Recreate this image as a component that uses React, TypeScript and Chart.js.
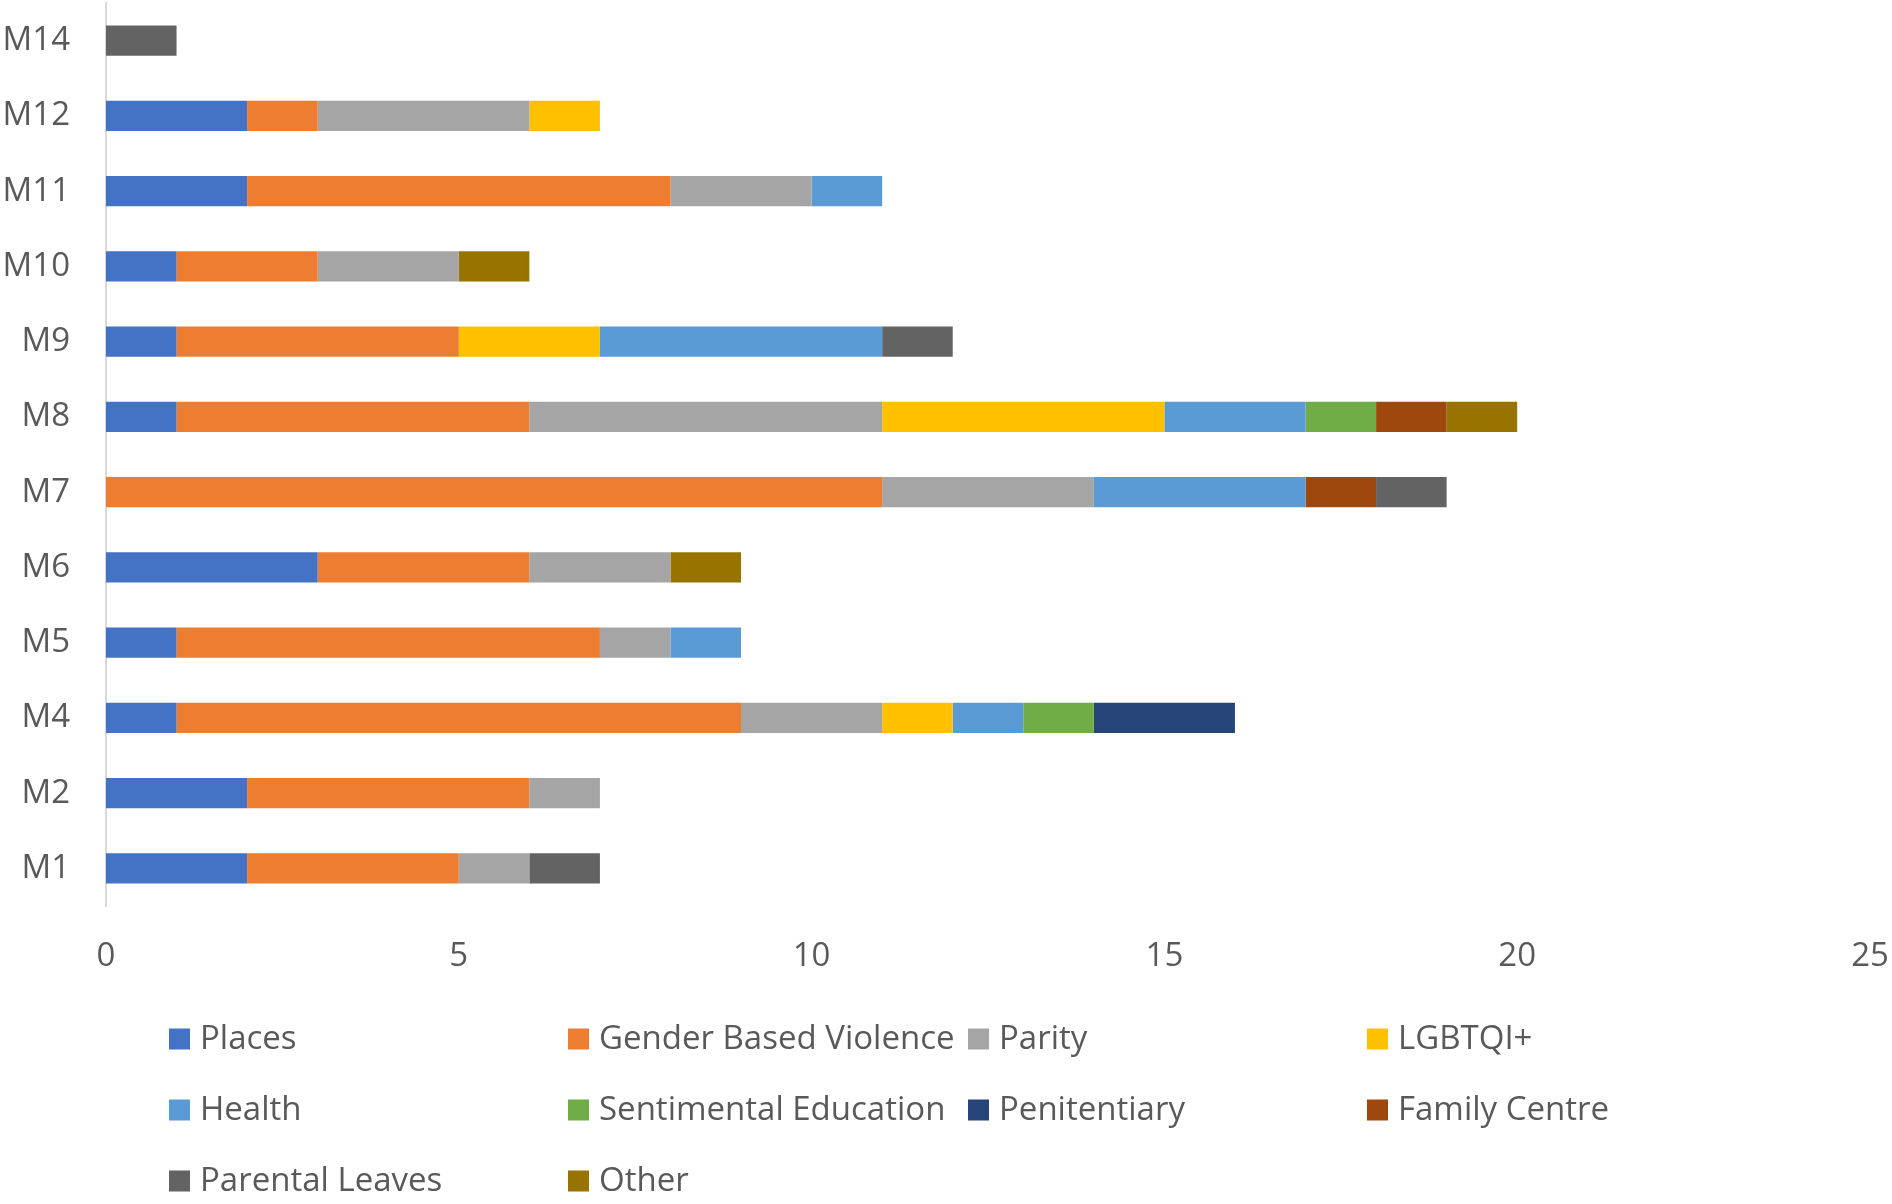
import React, { useEffect, useRef } from "react";
import { Chart, registerables } from "chart.js";

Chart.register(...registerables);

const categories = ["M14", "M12", "M11", "M10", "M9", "M8", "M7", "M6", "M5", "M4", "M2", "M1"];

const seriesNames = [
  "Places",
  "Gender Based Violence",
  "Parity",
  "LGBTQI+",
  "Health",
  "Sentimental Education",
  "Penitentiary",
  "Family Centre",
  "Parental Leaves",
  "Other",
];

const seriesColors = [
  "#4472C4",
  "#ED7D31",
  "#A5A5A5",
  "#FFC000",
  "#5B9BD5",
  "#70AD47",
  "#264478",
  "#9E480E",
  "#636363",
  "#997300",
];

const places = [0, 2, 2, 1, 1, 1, 0, 3, 1, 1, 2, 2];
const genderBasedViolence = [0, 1, 6, 2, 4, 5, 11, 3, 6, 8, 4, 3];
const parity = [0, 3, 2, 2, 0, 5, 3, 2, 1, 2, 1, 1];
const lgbtqi = [0, 1, 0, 0, 2, 4, 0, 0, 0, 1, 0, 0];
const health = [0, 0, 1, 0, 4, 2, 3, 0, 1, 1, 0, 0];
const sentimentalEducation = [0, 0, 0, 0, 0, 1, 0, 0, 0, 1, 0, 0];
const penitentiary = [0, 0, 0, 0, 0, 0, 0, 0, 0, 2, 0, 0];
const familyCentre = [0, 0, 0, 0, 0, 1, 1, 0, 0, 0, 0, 0];
const parentalLeaves = [1, 0, 0, 0, 1, 0, 1, 0, 0, 0, 0, 1];
const other = [0, 0, 0, 1, 0, 1, 0, 1, 0, 0, 0, 0];

const seriesValues = [
  places,
  genderBasedViolence,
  parity,
  lgbtqi,
  health,
  sentimentalEducation,
  penitentiary,
  familyCentre,
  parentalLeaves,
  other,
];

const xTickMin = 0;
const xTickMax = 25;
const xTickStep = 5;

const FONT = "'Open Sans', 'Noto Sans', sans-serif";
const TEXT_COLOR = "#595959";
const FONT_SIZE = 33;

const gridLegendPlugin = {
  id: "gridLegend",
  afterDraw(chart: any) {
    const ctx = chart.ctx;
    const colX = [169, 568, 968, 1367];
    const rowY = [1039, 1110, 1181];
    const box = 21;
    ctx.save();
    ctx.font = `${FONT_SIZE}px ${FONT}`;
    ctx.textBaseline = "middle";
    ctx.textAlign = "left";
    chart.data.datasets.forEach((ds: any, i: number) => {
      const c = i % 4;
      const r = Math.floor(i / 4);
      const x = colX[c];
      const y = rowY[r];
      ctx.fillStyle = ds.backgroundColor;
      ctx.fillRect(x, y - box / 2, box, box);
      ctx.fillStyle = TEXT_COLOR;
      ctx.fillText(ds.label, x + 31, y + 1);
    });
    ctx.restore();
  },
};

export default function App() {
  const ref = useRef<HTMLCanvasElement | null>(null);

  useEffect(() => {
    if (!ref.current) return;
    const chart = new Chart(ref.current, {
      type: "bar",
      data: {
        labels: categories,
        datasets: seriesNames.map((name, i) => ({
          label: name,
          data: seriesValues[i],
          backgroundColor: seriesColors[i],
          borderWidth: 0,
          categoryPercentage: 1,
          barPercentage: 0.4,
        })),
      },
      plugins: [gridLegendPlugin],
      options: {
        indexAxis: "y",
        responsive: false,
        animation: false,
        maintainAspectRatio: false,
        layout: { padding: { top: 3, right: 22, left: 0, bottom: 0 } },
        plugins: {
          legend: { display: false },
          tooltip: { enabled: false },
          title: { display: false },
        },
        scales: {
          x: {
            stacked: true,
            min: xTickMin,
            max: xTickMax,
            ticks: {
              stepSize: xTickStep,
              color: TEXT_COLOR,
              font: { family: FONT, size: FONT_SIZE },
              padding: 31,
            },
            grid: { display: false, drawTicks: false },
            border: { display: false },
            afterFit: (scale: any) => {
              scale.height = 298;
              scale.paddingLeft = 0;
              scale.paddingRight = 0;
            },
          },
          y: {
            stacked: true,
            ticks: {
              color: TEXT_COLOR,
              font: { family: FONT, size: FONT_SIZE },
              padding: 36,
            },
            grid: { display: true, color: "rgba(0,0,0,0)", drawTicks: false },
            border: { display: true, color: "#D9D9D9", width: 2 },
            afterFit: (scale: any) => {
              scale.width = 106;
              scale.paddingTop = 0;
              scale.paddingBottom = 0;
            },
          },
        },
      },
    });
    return () => chart.destroy();
  }, []);

  return (
    <div style={{ position: "absolute", left: 0, top: 0, width: 1892, height: 1204, background: "#fff" }}>
      <canvas ref={ref} width={1892} height={1204} style={{ width: 1892, height: 1204, display: "block" }} />
    </div>
  );
}
